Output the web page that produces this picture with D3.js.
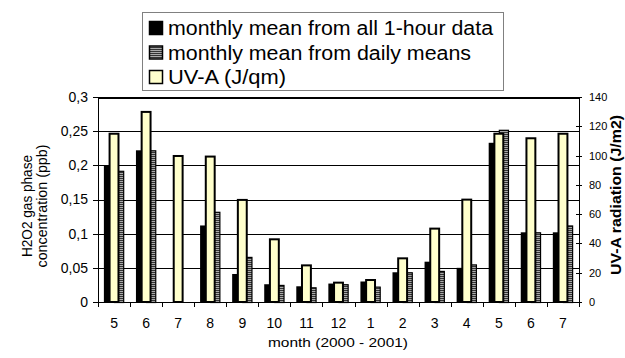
<!DOCTYPE html>
<html>
<head>
<meta charset="utf-8">
<script src="https://cdn.jsdelivr.net/npm/d3@7"></script>
<style>
  body { margin: 0; background: #fff; }
  svg text { font-family: "Liberation Sans", Arial, sans-serif; fill: #000; }
  .grid line { stroke: #000; shape-rendering: crispEdges; }
  .axis path, .axis line { stroke: #000; shape-rendering: crispEdges; }
</style>
</head>
<body>
<div id="chart"></div>
<script>
// months May 2000 .. Jul 2001
var months = ["5", "6", "7", "8", "9", "10", "11", "12", "1", "2", "3", "4", "5", "6", "7"];
// H2O2 (ppb), monthly mean from all 1-hour data
var hourlyMean = [0.2, 0.222, null, 0.112, 0.041, 0.026, 0.023, 0.027, 0.030, 0.0435, 0.059, 0.050, 0.233, 0.102, 0.102];
// H2O2 (ppb), monthly mean from daily means
var dailyMean = [0.192, 0.222, null, 0.132, 0.066, 0.025, 0.0215, 0.026, 0.0225, 0.0435, 0.0455, 0.055, 0.252, 0.102, 0.112];
// UV-A radiation
var uvA = [115.6, 130.5, 100.4, 100, 70.4, 43.5, 25.7, 13.9, 15.7, 30.5, 50.8, 70.6, 115.6, 112.5, 115.6];
var leftTicks = [0, 0.05, 0.1, 0.15, 0.2, 0.25, 0.3];
var rightTicks = [0, 20, 40, 60, 80, 100, 120, 140];
var legendLabels = ["monthly mean from all 1-hour data", "monthly mean from daily means", "UV-A (J/qm)"];

var W = 625, H = 358;
var m = { top: 97, right: 46, bottom: 56, left: 98 };
var width = W - m.left - m.right, height = H - m.top - m.bottom;

var svg = d3.select("#chart").append("svg").attr("width", W).attr("height", H);

var defs = svg.append("defs");
var pat = defs.append("pattern")
  .attr("id", "stripes").attr("patternUnits", "userSpaceOnUse")
  .attr("width", 4).attr("height", 2);
pat.append("rect").attr("width", 4).attr("height", 2).attr("fill", "#333");
pat.append("rect").attr("width", 4).attr("height", 1).attr("fill", "#aaa");

var g = svg.append("g").attr("transform", "translate(" + m.left + "," + m.top + ")");

// scales
var idx = d3.range(months.length);
var x = d3.scaleBand().domain(idx).range([0, width]).paddingInner(0.367).paddingOuter(0.1835);
var x1 = d3.scaleBand().domain(["hour", "daily"]).range([0, x.bandwidth()]);
var xu = d3.scaleBand().domain(idx).range([0, width]).paddingInner(0.66).paddingOuter(0.33);
var y = d3.scaleLinear().domain([0, 0.3]).range([height, 0]);
var y2 = d3.scaleLinear().domain([0, 140]).range([height, 0]);
var xTick = d3.scaleLinear().domain([0, months.length]).range([0, width]);

// gridlines
g.append("g").attr("class", "grid")
  .selectAll("line").data(leftTicks.slice(1)).enter().append("line")
  .attr("x1", 0).attr("x2", width)
  .attr("y1", function(d) { return Math.round(y(d)) + 0.5; })
  .attr("y2", function(d) { return Math.round(y(d)) + 0.5; })
  .attr("stroke-width", function(d) { return d === 0.3 ? 2 : 1; });

// primary bars
var series = [
  { key: "hour", values: hourlyMean, fill: "#000", stroke: "none" },
  { key: "daily", values: dailyMean, fill: "url(#stripes)", stroke: "#000" }
];
series.forEach(function(s) {
  var off = s.stroke === "none" ? 0 : 0.5;
  g.append("g").selectAll("rect")
    .data(s.values.map(function(v, i) { return { i: i, v: v }; }).filter(function(d) { return d.v != null; }))
    .enter().append("rect")
    .attr("x", function(d) { return x(d.i) + x1(s.key) + off; })
    .attr("y", function(d) { return y(d.v) + off; })
    .attr("width", x1.bandwidth() - 2 * off)
    .attr("height", function(d) { return y(0) - y(d.v); })
    .attr("fill", s.fill)
    .attr("stroke", s.stroke)
    .attr("stroke-width", 1.2);
});

// UV-A bars on the secondary axis
g.append("g").selectAll("rect")
  .data(uvA).enter().append("rect")
  .attr("x", function(d, i) { return xu(i) + 1; })
  .attr("y", function(d) { return y2(d) + 1; })
  .attr("width", xu.bandwidth() - 2)
  .attr("height", function(d) { return y2(0) - y2(d) - 1; })
  .attr("fill", "#ffffcc")
  .attr("stroke", "#000")
  .attr("stroke-width", 2);

// axes
var fmt = function(d) { return d3.format("")(d).replace(".", ","); };
var yAxis = g.append("g").attr("class", "axis")
  .call(d3.axisLeft(y).tickValues(leftTicks).tickFormat(fmt).tickSize(5).tickPadding(5));
yAxis.selectAll("text").style("font-size", "14px");
yAxis.select(".domain").attr("d", "M0.5," + height + "V0");

var y2Axis = g.append("g").attr("class", "axis")
  .attr("transform", "translate(" + width + ",0)")
  .call(d3.axisRight(y2).tickValues(rightTicks).tickSize(3).tickPadding(7));
y2Axis.selectAll(".tick line").attr("x1", -3);
y2Axis.selectAll("text").style("font-size", "11px");
y2Axis.select(".domain").attr("d", "M0.5," + height + "V0");

var xAxis = g.append("g").attr("class", "axis")
  .attr("transform", "translate(0," + height + ")")
  .call(d3.axisBottom(xTick).tickValues(d3.range(months.length + 1)).tickSize(5).tickFormat(""));
xAxis.select(".domain").attr("d", "M0,0.5H" + width);
g.append("g").selectAll("text").data(months).enter().append("text")
  .attr("x", function(d, i) { return x(i) + x.bandwidth() / 2; })
  .attr("y", height + 26)
  .attr("text-anchor", "middle")
  .style("font-size", "14px")
  .text(function(d) { return d; });

// titles
svg.append("text")
  .attr("x", 338).attr("y", 347)
  .attr("text-anchor", "middle")
  .style("font-size", "13px")
  .attr("textLength", 140).attr("lengthAdjust", "spacingAndGlyphs")
  .text("month (2000 - 2001)");

svg.append("text")
  .attr("transform", "translate(32,206) rotate(-90)")
  .attr("text-anchor", "middle")
  .style("font-size", "15px")
  .attr("textLength", 102).attr("lengthAdjust", "spacingAndGlyphs")
  .text("H2O2 gas phase");
svg.append("text")
  .attr("transform", "translate(47,206) rotate(-90)")
  .attr("text-anchor", "middle")
  .style("font-size", "15px")
  .attr("textLength", 123).attr("lengthAdjust", "spacingAndGlyphs")
  .text("concentration (ppb)");

svg.append("text")
  .attr("transform", "translate(621,195) rotate(-90)")
  .attr("text-anchor", "middle")
  .style("font-size", "14px")
  .style("font-weight", "bold")
  .attr("textLength", 160).attr("lengthAdjust", "spacingAndGlyphs")
  .text("UV-A radiation (J/m2)");

// legend
var leg = svg.append("g");
leg.append("rect")
  .attr("x", 142.5).attr("y", 12.5).attr("width", 361).attr("height", 78)
  .attr("fill", "#fff").attr("stroke", "#808080").attr("stroke-width", 1);
var swatch = [
  { fill: "#000", stroke: "#000" },
  { fill: "url(#stripes)", stroke: "#000" },
  { fill: "#ffffcc", stroke: "#000" }
];
var textW = [325, 303, 118];
legendLabels.forEach(function(t, i) {
  var cy = 28 + i * 24.5;
  leg.append("rect")
    .attr("x", 149.5).attr("y", cy - 6.5).attr("width", 13).attr("height", 13)
    .attr("fill", swatch[i].fill).attr("stroke", swatch[i].stroke).attr("stroke-width", 1.5);
  leg.append("text")
    .attr("x", 168).attr("y", cy + 7)
    .style("font-size", "20px")
    .attr("textLength", textW[i]).attr("lengthAdjust", "spacingAndGlyphs")
    .text(t);
});
</script>
</body>
</html>
